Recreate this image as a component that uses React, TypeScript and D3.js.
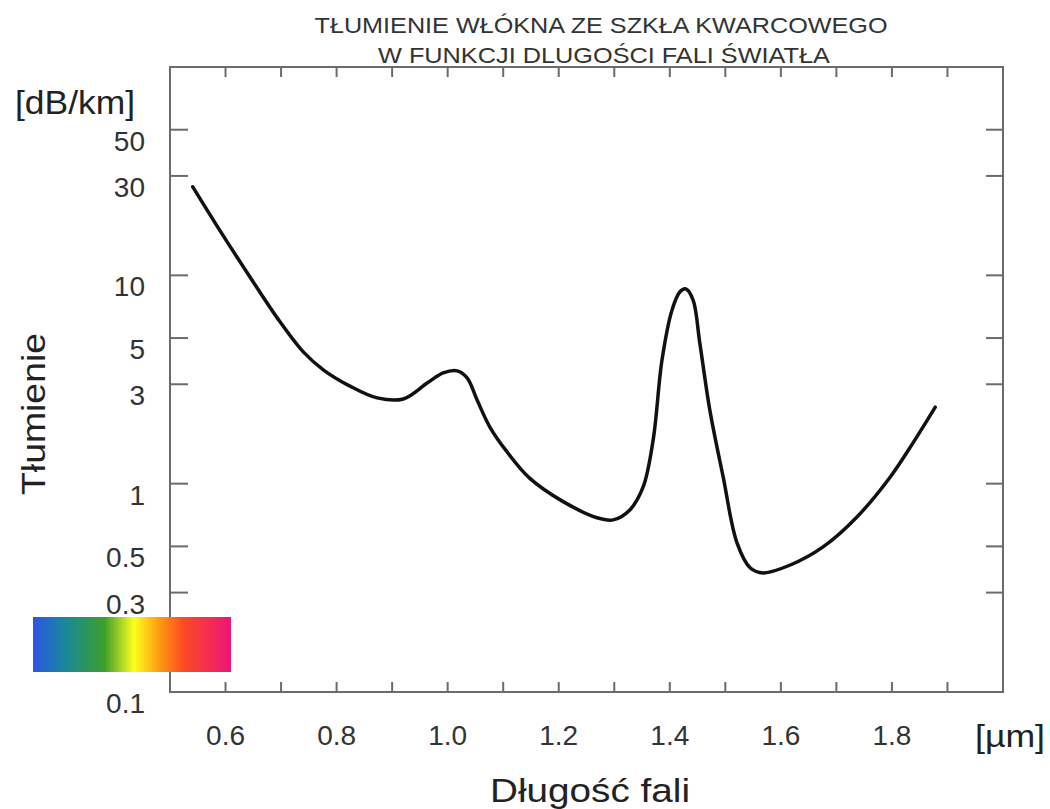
import React from "react";
import * as d3 from "d3";

// wavelength [µm] and attenuation [dB/km]
const wavelength = [
  0.541, 0.59, 0.644, 0.693, 0.74, 0.776, 0.824, 0.873, 0.92, 0.963, 0.992,
  1.017, 1.035, 1.053, 1.076, 1.107, 1.148, 1.208, 1.269, 1.298, 1.328, 1.352,
  1.37, 1.386, 1.404, 1.418, 1.429, 1.442, 1.454, 1.472, 1.496, 1.521, 1.545,
  1.568, 1.617, 1.676, 1.737, 1.797, 1.838, 1.878,
];
const attenuation = [
  26.6, 16.4, 9.82, 6.25, 4.29, 3.52, 2.94, 2.58, 2.55, 3.04, 3.4, 3.48, 3.22,
  2.52, 1.87, 1.42, 1.06, 0.82, 0.686, 0.67, 0.748, 0.964, 1.62, 3.93, 6.82,
  8.32, 8.6, 7.6, 4.74, 2.26, 1.08, 0.52, 0.394, 0.373, 0.407, 0.497, 0.692,
  1.077, 1.57, 2.33,
];

const xTickLabels = [0.6, 0.8, 1.0, 1.2, 1.4, 1.6, 1.8];
const xMinorTicks = d3.range(0.6, 1.95, 0.1);
const yTickLabels = [0.1, 0.3, 0.5, 1, 3, 5, 10, 30, 50];

const spectrumStops = [
  { offset: 0, color: "#2a55e6" },
  { offset: 0.17, color: "#1a8a96" },
  { offset: 0.36, color: "#3c9e2c" },
  { offset: 0.51, color: "#fbff1e" },
  { offset: 0.63, color: "#ffa10e" },
  { offset: 0.76, color: "#fb4a24" },
  { offset: 1, color: "#ee1477" },
];

const W = 1050;
const H = 809;
const LEFT = 170;
const RIGHT = 1003;
const TOP = 67;
const BOTTOM = 692;

const FONT = "'Liberation Sans', Arial, sans-serif";
const AXIS = "#6b6b6b";

export default function App() {
  const x = d3.scaleLinear().domain([0.5, 2.0]).range([LEFT, RIGHT]);
  const y = d3.scaleLog().domain([0.1, 100]).range([BOTTOM, TOP]);

  const points = wavelength.map((w, i) => [w, attenuation[i]] as [number, number]);
  const line = d3
    .line<[number, number]>()
    .x((d) => x(d[0]))
    .y((d) => y(d[1]))
    .curve(d3.curveCatmullRom.alpha(0.5));

  return (
    <svg
      width={W}
      height={H}
      style={{ position: "absolute", left: 0, top: 0, background: "#fff" }}
      fontFamily={FONT}
    >
      <defs>
        <linearGradient id="spectrum" x1="0" x2="1" y1="0" y2="0">
          {spectrumStops.map((s) => (
            <stop key={s.offset} offset={s.offset} stopColor={s.color} />
          ))}
        </linearGradient>
      </defs>

      {/* title */}
      <text
        x={601}
        y={33}
        textAnchor="middle"
        fontSize={22}
        fill="#333"
        textLength={573}
        lengthAdjust="spacingAndGlyphs"
      >
        TŁUMIENIE WŁÓKNA ZE SZKŁA KWARCOWEGO
      </text>
      <text
        x={604}
        y={63}
        textAnchor="middle"
        fontSize={22}
        fill="#333"
        textLength={452}
        lengthAdjust="spacingAndGlyphs"
      >
        W FUNKCJI DLUGOŚCI FALI ŚWIATŁA
      </text>

      {/* frame */}
      <rect
        x={LEFT}
        y={TOP}
        width={RIGHT - LEFT}
        height={BOTTOM - TOP}
        fill="none"
        stroke={AXIS}
        strokeWidth={2}
      />

      {/* x ticks, top and bottom */}
      {xMinorTicks.map((t) => (
        <g key={t}>
          <line x1={x(t)} x2={x(t)} y1={BOTTOM} y2={BOTTOM - 10} stroke={AXIS} strokeWidth={2} />
          <line x1={x(t)} x2={x(t)} y1={TOP} y2={TOP + 10} stroke={AXIS} strokeWidth={2} />
        </g>
      ))}
      {xTickLabels.map((t) => (
        <text key={t} x={x(t)} y={745} textAnchor="middle" fontSize={28} fill="#333">
          {t.toFixed(1)}
        </text>
      ))}

      {/* y ticks, left and right */}
      {yTickLabels.map((t) => (
        <g key={t}>
          {t > 0.1 && (
            <>
              <line x1={LEFT} x2={LEFT + 18} y1={y(t)} y2={y(t)} stroke={AXIS} strokeWidth={2} />
              <line x1={RIGHT} x2={RIGHT - 17} y1={y(t)} y2={y(t)} stroke={AXIS} strokeWidth={2} />
            </>
          )}
          <text x={145} y={y(t) + 21} textAnchor="end" fontSize={28} fill="#333">
            {t}
          </text>
        </g>
      ))}

      {/* spectrum bar */}
      <rect x={33} y={617} width={198} height={55} fill="url(#spectrum)" />

      {/* curve */}
      <path
        d={line(points) ?? ""}
        fill="none"
        stroke="#111"
        strokeWidth={3.5}
        strokeLinecap="round"
        strokeLinejoin="round"
      />

      {/* axis labels */}
      <text x={15} y={114} fontSize={34} fill="#222" textLength={120} lengthAdjust="spacingAndGlyphs">
        [dB/km]
      </text>
      <text
        transform="translate(45,414) rotate(-90)"
        textAnchor="middle"
        fontSize={34}
        fill="#222"
        textLength={162}
        lengthAdjust="spacingAndGlyphs"
      >
        Tłumienie
      </text>
      <text
        x={590}
        y={802}
        textAnchor="middle"
        fontSize={34}
        fill="#222"
        textLength={200}
        lengthAdjust="spacingAndGlyphs"
      >
        Długość fali
      </text>
      <text x={975} y={747} fontSize={32} fill="#222" textLength={70} lengthAdjust="spacingAndGlyphs">
        [µm]
      </text>
    </svg>
  );
}
